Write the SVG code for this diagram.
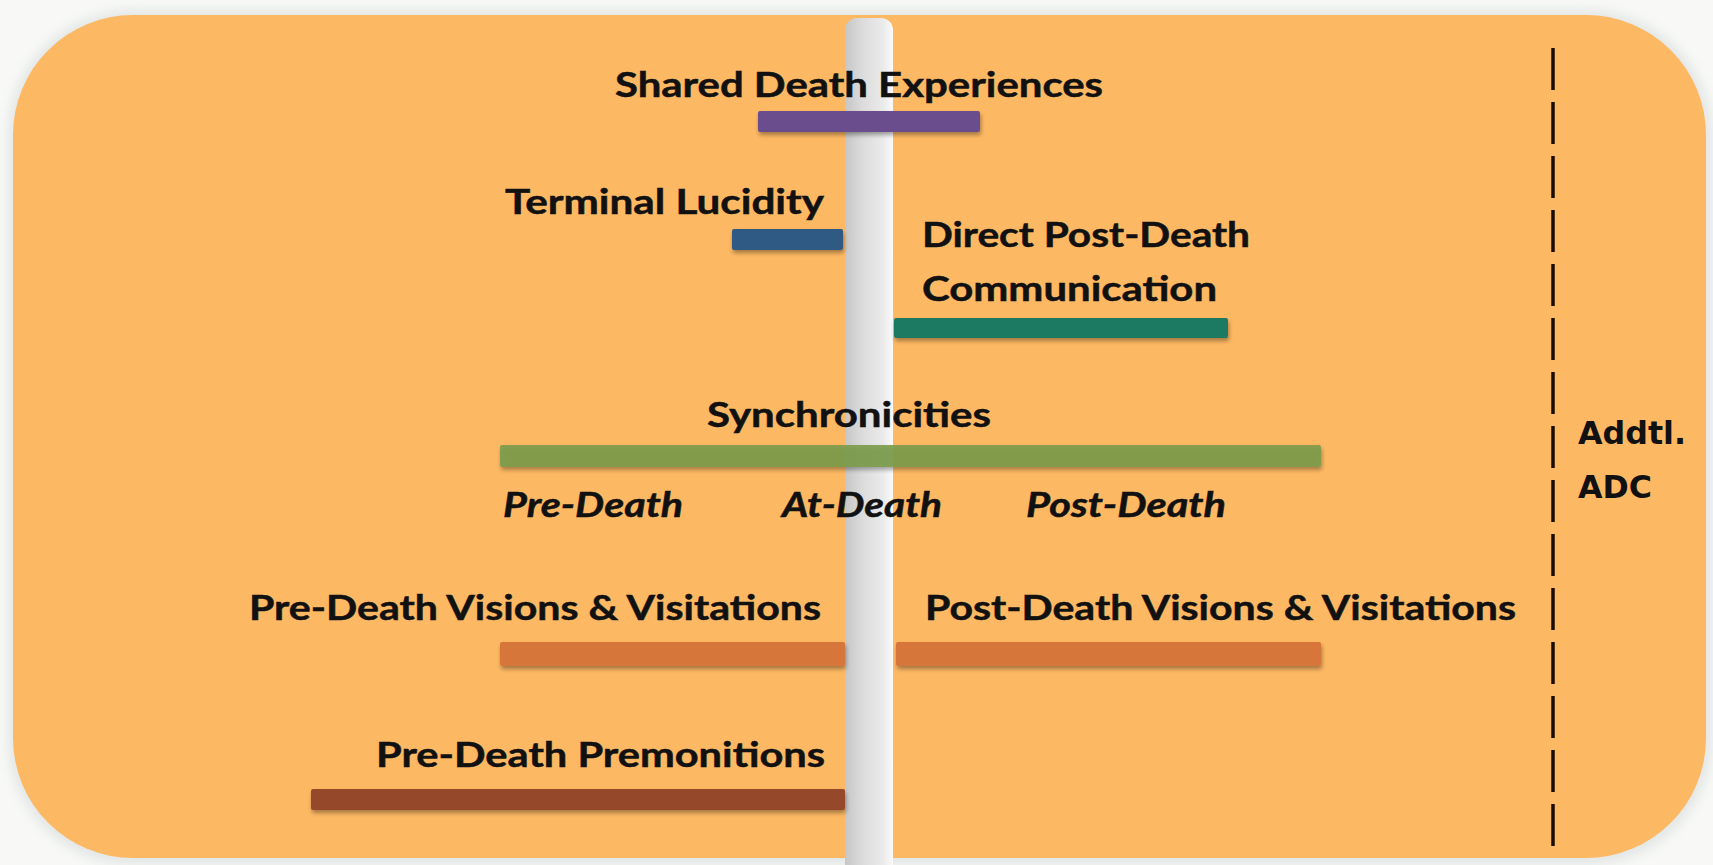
<svg xmlns="http://www.w3.org/2000/svg" width="1713" height="865" viewBox="0 0 1713 865">
  <defs>
    <linearGradient id="axisFill" x1="0" y1="0" x2="1" y2="0">
      <stop offset="0" stop-color="#c6c6c6"/>
      <stop offset="0.35" stop-color="#dbdbdb"/>
      <stop offset="0.8" stop-color="#ebebeb"/>
      <stop offset="1" stop-color="#fafafa"/>
    </linearGradient>
    <filter id="halo" x="-5%" y="-5%" width="110%" height="110%">
      <feGaussianBlur stdDeviation="6"/>
    </filter>
    <filter id="barShadow" x="-5%" y="-50%" width="110%" height="220%">
      <feGaussianBlur in="SourceAlpha" stdDeviation="2"/>
      <feOffset dx="1" dy="3" result="blur"/>
      <feComponentTransfer><feFuncA type="linear" slope="0.35"/></feComponentTransfer>
      <feMerge><feMergeNode/><feMergeNode in="SourceGraphic"/></feMerge>
    </filter>
  </defs>
  <style>
    .lbl { font-family: Lato, "Open Sans", "Liberation Sans", sans-serif; font-weight: bold; font-size: 35px; fill: #111; stroke: #111; stroke-width: 0.5px; }
    .phase { font-family: Lato, "Open Sans", "Liberation Sans", sans-serif; font-weight: bold; font-style: italic; font-size: 35px; fill: #111; stroke: #111; stroke-width: 0.5px; }
    .side { font-family: "DejaVu Sans", Verdana, sans-serif; font-weight: bold; font-size: 32px; fill: #111; }
    .bar { filter: url(#barShadow); }
  </style>

  <!-- page and rounded orange panel -->
  <rect x="0" y="0" width="1713" height="865" fill="#f8f9f7"/>
  <rect x="8" y="10" width="1704" height="855" rx="125" fill="#e2e6e4" filter="url(#halo)"/>
  <rect x="13" y="15" width="1693" height="843" rx="120" fill="#fdb863"/>

  <!-- timeline axis and divider -->
  <g id="guides">
    <rect id="death-axis" x="845" y="18" width="48" height="860" rx="12" fill="url(#axisFill)"/>
    <line id="adc-divider" x1="1553" y1="48" x2="1553" y2="846" stroke="#1a0d05" stroke-width="3.5" stroke-dasharray="42 12"/>
  </g>

  <g id="shared-death">
    <rect class="bar" x="758" y="111" width="222" height="21" rx="2" fill="#6a4d8c"/>
    <text class="lbl" x="615" y="97" textLength="488" lengthAdjust="spacingAndGlyphs">Shared Death Experiences</text>
  </g>

  <g id="terminal-lucidity">
    <rect class="bar" x="732" y="229" width="111" height="21" rx="2" fill="#2e5a84"/>
    <text class="lbl" x="505" y="214" textLength="319" lengthAdjust="spacingAndGlyphs">Terminal Lucidity</text>
  </g>

  <g id="direct-post-death">
    <rect class="bar" x="894" y="318" width="334" height="20" rx="2" fill="#1d7a62"/>
    <text class="lbl" x="922" y="247" textLength="328" lengthAdjust="spacingAndGlyphs">Direct Post-Death</text>
    <text class="lbl" x="922" y="301" textLength="295" lengthAdjust="spacingAndGlyphs">Communication</text>
  </g>

  <g id="synchronicities">
    <rect class="bar" x="500" y="445" width="821" height="22" rx="2" fill="#7a9b4b" fill-opacity="0.9"/>
    <text class="lbl" x="707" y="427" textLength="284" lengthAdjust="spacingAndGlyphs">Synchronicities</text>
  </g>

  <g id="phases">
    <text class="phase" x="503" y="517" textLength="180" lengthAdjust="spacingAndGlyphs">Pre-Death</text>
    <text class="phase" x="782" y="517" textLength="160" lengthAdjust="spacingAndGlyphs">At-Death</text>
    <text class="phase" x="1026" y="517" textLength="200" lengthAdjust="spacingAndGlyphs">Post-Death</text>
  </g>

  <g id="pre-death-visions">
    <rect class="bar" x="500" y="642" width="345" height="24" rx="2" fill="#d7763a"/>
    <text class="lbl" x="249" y="620" textLength="572" lengthAdjust="spacingAndGlyphs">Pre-Death Visions &amp; Visitations</text>
  </g>

  <g id="post-death-visions">
    <rect class="bar" x="896" y="642" width="425" height="24" rx="2" fill="#d7763a"/>
    <text class="lbl" x="925" y="620" textLength="591" lengthAdjust="spacingAndGlyphs">Post-Death Visions &amp; Visitations</text>
  </g>

  <g id="premonitions">
    <rect class="bar" x="311" y="789" width="534" height="21" rx="2" fill="#95482b"/>
    <text class="lbl" x="376" y="767" textLength="449" lengthAdjust="spacingAndGlyphs">Pre-Death Premonitions</text>
  </g>

  <g id="additional-adc">
    <text class="side" x="1578" y="444" textLength="108" lengthAdjust="spacingAndGlyphs">Addtl.</text>
    <text class="side" x="1578" y="498" textLength="74" lengthAdjust="spacingAndGlyphs">ADC</text>
  </g>
</svg>
